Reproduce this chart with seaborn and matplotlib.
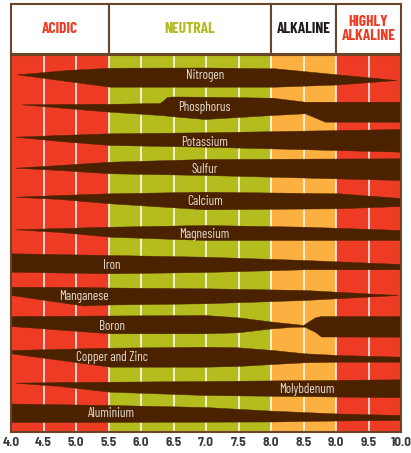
import numpy as np
import pandas as pd
import matplotlib
matplotlib.use("Agg")
import matplotlib.pyplot as plt
import seaborn as sns
from matplotlib.patches import Rectangle

# ---------------- data ----------------
ph_ticks = [4.0, 4.5, 5.0, 5.5, 6.0, 6.5, 7.0, 7.5, 8.0, 8.5, 9.0, 9.5, 10.0]
tick_labels = ["4.0", "4.5", "5.0", "5.5", "6.0", "6.5", "7.0", "7.5", "8.0", "8.5", "9.0", "9.5", "10.0"]

zone_names = ["ACIDIC", "NEUTRAL", "ALKALINE", "HIGHLY\nALKALINE"]
zone_start = [4.0, 5.5, 8.0, 9.0]
zone_end = [5.5, 8.0, 9.0, 10.0]

nutrients = ["Nitrogen", "Phosphorus", "Potassium", "Sulfur", "Calcium", "Magnesium",
             "Iron", "Manganese", "Boron", "Copper and Zinc", "Molybdenum", "Aluminium"]

# band outlines: pH positions, upper edge and lower edge (chart units, 0 = top)
nitrogen_ph = [4.09, 4.34, 4.86, 5.52, 6.98, 8.06, 9.03, 9.93]
nitrogen_top = [19.3, 18.0, 15.0, 12.7, 12.5, 13.3, 19.4, 25.0]
nitrogen_bot = [19.3, 21.5, 26.0, 31.7, 31.7, 31.7, 29.5, 25.0]

phosphorus_ph = [4.165, 4.75, 5.52, 6.29, 6.35, 6.40, 6.48, 6.98, 8.02, 8.52, 8.83, 10.0]
phosphorus_top = [49.3, 49.0, 48.8, 48.0, 45.0, 42.0, 41.5, 41.7, 42.7, 46.7, 46.7, 46.7]
phosphorus_bot = [49.3, 52.5, 56.7, 60.0, 60.3, 60.7, 61.2, 64.0, 60.0, 58.3, 66.7, 66.7]

potassium_ph = [4.06, 4.75, 5.52, 6.98, 10.0]
potassium_top = [81.7, 80.0, 78.3, 77.3, 74.0]
potassium_bot = [81.7, 86.0, 90.0, 91.7, 96.7]

sulfur_ph = [4.06, 4.75, 5.52, 6.98, 10.0]
sulfur_top = [112.7, 110.0, 106.7, 104.0, 103.3]
sulfur_bot = [112.7, 115.0, 118.3, 120.0, 125.0]

calcium_ph = [4.06, 4.75, 5.52, 6.98, 9.03, 10.0]
calcium_top = [141.7, 140.0, 138.3, 136.7, 138.3, 143.0]
calcium_bot = [141.7, 144.0, 148.3, 154.3, 153.3, 151.0]

magnesium_ph = [4.06, 4.75, 5.52, 6.98, 8.52, 10.0]
magnesium_top = [174.3, 173.0, 171.7, 170.0, 171.7, 175.0]
magnesium_bot = [174.3, 177.0, 181.7, 185.0, 185.0, 185.0]

iron_ph = [4.0, 5.52, 6.98, 8.52, 10.0]
iron_top = [198.3, 200.0, 201.7, 205.0, 209.0]
iron_bot = [216.7, 218.3, 217.0, 214.3, 214.3]

manganese_ph = [4.0, 5.11, 5.52, 6.98, 8.52, 9.95]
manganese_top = [231.7, 232.0, 232.5, 233.3, 235.0, 240.0]
manganese_bot = [240.0, 250.5, 249.5, 248.3, 245.0, 240.0]

boron_ph = [4.0, 5.52, 6.98, 7.49, 8.02, 8.37, 8.49, 8.52, 8.57, 8.68, 8.77, 10.0]
boron_top = [261.0, 260.5, 260.0, 262.3, 266.7, 269.0, 270.0, 269.0, 266.7, 262.3, 261.0, 261.0]
boron_bot = [271.0, 278.3, 278.3, 277.3, 273.3, 271.7, 271.7, 271.7, 273.5, 277.0, 281.5, 281.7]

copper_ph = [4.0, 5.52, 6.98, 7.49, 8.02, 8.52, 9.03, 10.0]
copper_top = [295.0, 292.7, 291.7, 292.3, 295.0, 298.3, 300.0, 301.7]
copper_bot = [298.3, 311.7, 311.7, 311.0, 309.0, 307.3, 306.7, 306.7]

molybdenum_ph = [4.06, 4.75, 5.52, 6.98, 10.0]
molybdenum_top = [327.7, 327.0, 326.7, 326.0, 324.3]
molybdenum_bot = [327.7, 331.0, 336.7, 340.0, 342.3]

aluminium_ph = [4.0, 5.52, 6.98, 8.02, 9.03, 10.0]
aluminium_top = [348.5, 350.0, 352.0, 355.7, 358.5, 360.0]
aluminium_bot = [367.0, 367.0, 366.7, 366.5, 365.5, 365.0]

label_ph = [6.98, 6.98, 6.98, 6.98, 6.98, 6.98, 5.55, 5.12, 5.55, 5.55, 8.55, 5.54]
label_pos = [20.5, 52.5, 87.5, 114.5, 146.5, 179.5, 210.5, 241.5, 271.5, 302.5, 334.5, 358.5]

# ---------------- build long table ----------------
shapes = [
    (nitrogen_ph, nitrogen_top, nitrogen_bot),
    (phosphorus_ph, phosphorus_top, phosphorus_bot),
    (potassium_ph, potassium_top, potassium_bot),
    (sulfur_ph, sulfur_top, sulfur_bot),
    (calcium_ph, calcium_top, calcium_bot),
    (magnesium_ph, magnesium_top, magnesium_bot),
    (iron_ph, iron_top, iron_bot),
    (manganese_ph, manganese_top, manganese_bot),
    (boron_ph, boron_top, boron_bot),
    (copper_ph, copper_top, copper_bot),
    (molybdenum_ph, molybdenum_top, molybdenum_bot),
    (aluminium_ph, aluminium_top, aluminium_bot),
]
rows = []
for name, (p, t, b) in zip(nutrients, shapes):
    for pi, ti, bi in zip(p, t, b):
        rows.append({"nutrient": name, "pH": pi, "top": ti, "bottom": bi})
df = pd.DataFrame(rows)

# ---------------- style ----------------
sns.set_theme(style="white")
plt.rcParams["font.family"] = ["Barlow Semi Condensed", "DejaVu Sans"]
COND_FONT = ["Barlow Condensed", "DejaVu Sans"]

RED = "#EE3B24"
GREEN = "#B4BD1D"
ORANGE = "#FBB040"
BROWN = "#4A2200"
FRAME = "#6A4528"
zone_bg = [RED, GREEN, ORANGE, RED]
zone_txt = [RED, "#B1BA1E", "#231F20", RED]

W, H = 411, 453
fig = plt.figure(figsize=(W / 100, H / 100), dpi=100)
fig.patch.set_facecolor("white")

x0, x1 = 11, 401
ax = fig.add_axes([x0 / W, 1 - 432 / H, (x1 - x0) / W, (432 - 55) / H])
hax = fig.add_axes([x0 / W, 1 - 54 / H, (x1 - x0) / W, (54 - 4) / H])

# background zones
for s, e, c in zip(zone_start, zone_end, zone_bg):
    ax.axvspan(s, e, color=c, lw=0, zorder=0)
for t in ph_ticks[1:-1]:
    ax.axvline(t, color="white", lw=1.1, zorder=1)

# bands
for name in nutrients:
    d = df[df["nutrient"] == name]
    ax.fill_between(d["pH"], d["top"], d["bottom"], color=BROWN, lw=0.3,
                    edgecolor=BROWN, zorder=2)

# labels
for name, lp, ly in zip(nutrients, label_ph, label_pos):
    ax.text(lp, ly, name, color="#E6DCD2", fontsize=9.5, ha="center", va="center",
            family=COND_FONT, fontweight="normal", zorder=3)

ax.set_xlim(4, 10)
ax.set_ylim(377, 0)
ax.set_xticks(ph_ticks)
ax.set_xticklabels(tick_labels, fontsize=9.5, fontweight="bold", color="#3A3A3A")
ax.set_yticks([])
ax.tick_params(axis="x", length=0, pad=3.5)
for sp in ax.spines.values():
    sp.set_visible(True)
    sp.set_color(FRAME)
    sp.set_linewidth(1.5)

# header
hax.set_xlim(4, 10)
hax.set_ylim(0, 1)
hax.axis("off")
for nm, s, e, c in zip(zone_names, zone_start, zone_end, zone_txt):
    hax.add_patch(Rectangle((s, 0), e - s, 1, facecolor="white", edgecolor=FRAME,
                            lw=1.5, clip_on=False))
    hax.text((s + e) / 2, 0.5, nm, color=c, fontsize=11.2, fontweight="bold",
             family=COND_FONT, ha="center", va="center", linespacing=1.05)

fig.savefig("out.png", dpi=100, facecolor="white")
